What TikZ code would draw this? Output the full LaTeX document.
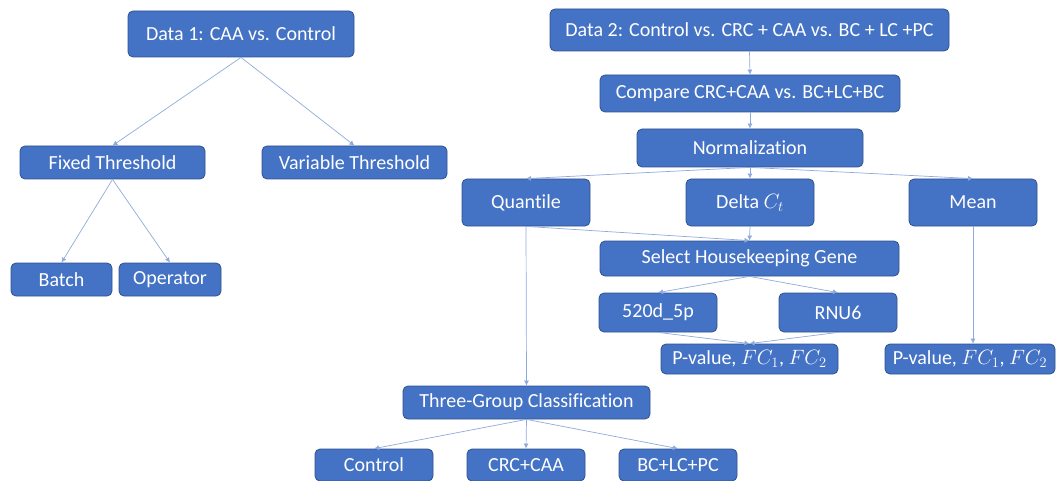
\documentclass[tikz,border=0pt]{standalone}
\usepackage{fontspec}
\setmainfont[Ligatures=NoCommon]{Carlito}
\usetikzlibrary{arrows.meta}
\definecolor{boxfill}{HTML}{4472C4}
\definecolor{boxline}{HTML}{2F528F}
\definecolor{conn}{HTML}{8FAADC}
\tikzset{
  box/.style={draw=boxline, line width=0.8pt, fill=boxfill, rounded corners=5pt,
    text=white, inner sep=0pt, align=center,
    font=\fontsize{20}{22}\selectfont},
  link/.style={draw=conn, line width=0.7pt, -{Latex[length=5pt,width=5pt]}},
}
\begin{document}
\begin{tikzpicture}[x=1pt,y=-1pt]
\useasboundingbox (0,0) rectangle (1057,481);
% left tree
\node[box, minimum width=226pt, minimum height=46pt] (d1) at (241,34) {Data 1: CAA vs. Control};
\node[box, minimum width=185pt, minimum height=33pt] (fixed) at (112.5,162.5) {Fixed Threshold};
\node[box, minimum width=185pt, minimum height=33pt] (var) at (354.5,162.5) {Variable Threshold};
\node[box, minimum width=101pt, minimum height=33pt] (batch) at (61.5,279.5) {Batch};
\node[box, minimum width=102pt, minimum height=33pt] (oper) at (170,279.5) {Operator};
% right tree
\node[box, minimum width=399pt, minimum height=42pt] (d2) at (749.5,30) {Data 2: Control vs. CRC + CAA vs. BC + LC +PC};
\node[box, minimum width=300pt, minimum height=37pt] (comp) at (750,93.5) {Compare CRC+CAA vs. BC+LC+BC};
\node[box, minimum width=226pt, minimum height=38pt] (norm) at (750,148) {Normalization};
\node[box, minimum width=128pt, minimum height=47pt] (quant) at (526,202.5) {Quantile};
\node[box, minimum width=128pt, minimum height=47pt] (delta) at (750,202.5) {Delta $C_t$};
\node[box, minimum width=128pt, minimum height=47pt] (mean) at (973,202.5) {Mean};
\node[box, minimum width=299pt, minimum height=35pt] (select) at (749.5,258.5) {Select Housekeeping Gene};
\node[box, minimum width=118pt, minimum height=39pt] (s520) at (658,312.5) {520d\_5p};
\node[box, minimum width=118pt, minimum height=39pt] (rnu) at (838,312.5) {RNU6};
\node[box, minimum width=177pt, minimum height=30pt] (pv1) at (749.5,359) {P-value, $FC_1$, $FC_2$};
\node[box, minimum width=170pt, minimum height=30pt] (pv2) at (970,359) {P-value, $FC_1$, $FC_2$};
\node[box, minimum width=247pt, minimum height=33pt] (three) at (526.5,402.5) {Three-Group Classification};
\node[box, minimum width=118pt, minimum height=32pt] (ctrl) at (374,465) {Control};
\node[box, minimum width=118pt, minimum height=32pt] (crc) at (526,465) {CRC+CAA};
\node[box, minimum width=118pt, minimum height=32pt] (bclc) at (678,465) {BC+LC+PC};
% connectors
\draw[link] (d1.south) -- (fixed.north);
\draw[link] (d1.south) -- (var.north);
\draw[link] (fixed.south) -- (batch.north);
\draw[link] (fixed.south) -- (oper.north);
\draw[link] (d2.south) -- (comp.north);
\draw[link] (comp.south) -- (norm.north);
\draw[link] (norm.south) -- (quant.north);
\draw[link] (norm.south) -- (delta.north);
\draw[link] (norm.south) -- (mean.north);
\draw[link] (delta.south) -- (select.north);
\draw[link] (quant.south) -- (select.north);
\draw[link] (select.south) -- (s520.north);
\draw[link] (select.south) -- (rnu.north);
\draw[link] (s520.south) -- (pv1.north);
\draw[link] (rnu.south) -- (pv1.north);
\draw[link] (mean.south) -- (mean.south |- pv2.north);
\draw[link] (quant.south) -- (three.north);
\draw[link] (three.south) -- (ctrl.north);
\draw[link] (three.south) -- (crc.north);
\draw[link] (three.south) -- (bclc.north);
\end{tikzpicture}
\end{document}
